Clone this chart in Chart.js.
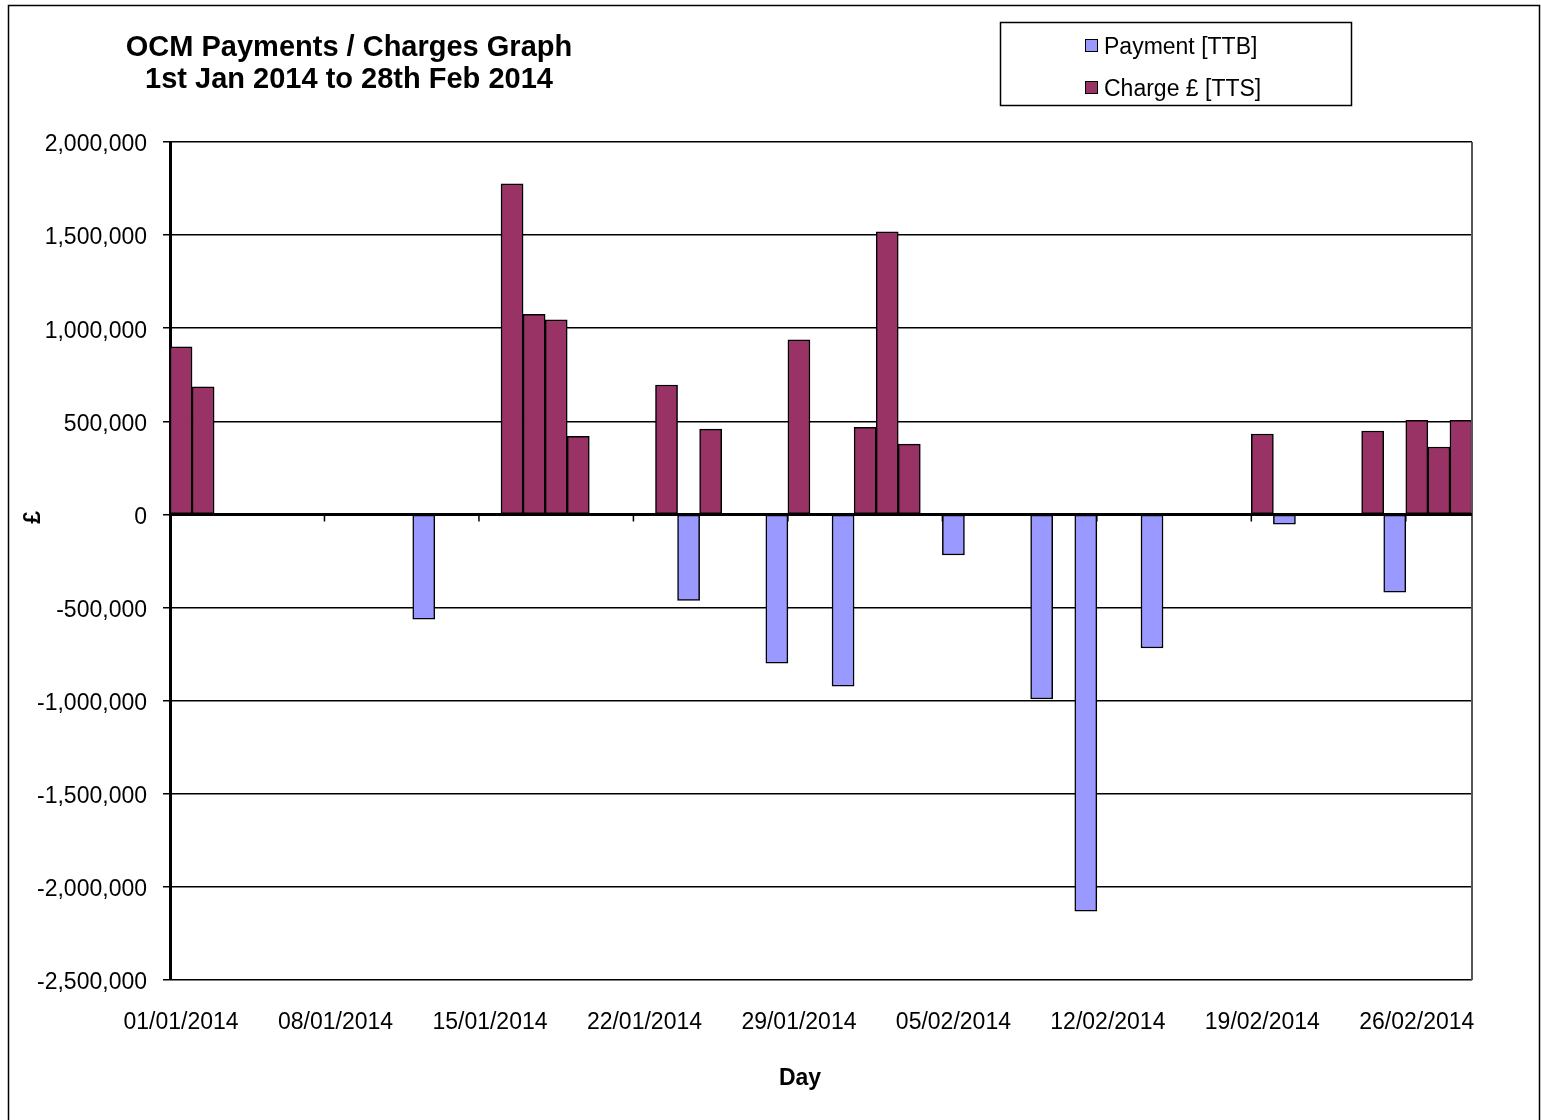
<!DOCTYPE html>
<html>
<head>
<meta charset="utf-8">
<title>OCM Payments / Charges Graph</title>
<script src="https://cdn.jsdelivr.net/npm/chart.js@4/dist/chart.umd.min.js"></script>
<style>
    body { margin: 0; background: #fff; }
    #wrap { position: relative; width: 1541px; height: 1120px; }
</style>
</head>
<body>
<div id="wrap"><canvas id="ocmChart"></canvas></div>
<script>
// Chart data
const days = [
    '01/01/2014', '02/01/2014', '03/01/2014', '04/01/2014', '05/01/2014', '06/01/2014', '07/01/2014',
    '08/01/2014', '09/01/2014', '10/01/2014', '11/01/2014', '12/01/2014', '13/01/2014', '14/01/2014',
    '15/01/2014', '16/01/2014', '17/01/2014', '18/01/2014', '19/01/2014', '20/01/2014', '21/01/2014',
    '22/01/2014', '23/01/2014', '24/01/2014', '25/01/2014', '26/01/2014', '27/01/2014', '28/01/2014',
    '29/01/2014', '30/01/2014', '31/01/2014', '01/02/2014', '02/02/2014', '03/02/2014', '04/02/2014',
    '05/02/2014', '06/02/2014', '07/02/2014', '08/02/2014', '09/02/2014', '10/02/2014', '11/02/2014',
    '12/02/2014', '13/02/2014', '14/02/2014', '15/02/2014', '16/02/2014', '17/02/2014', '18/02/2014',
    '19/02/2014', '20/02/2014', '21/02/2014', '22/02/2014', '23/02/2014', '24/02/2014', '25/02/2014',
    '26/02/2014', '27/02/2014', '28/02/2014'
];

// Payment [TTB] - one value per day, null where nothing was paid
const payments = [
    null, null, null, null, null, null, null,
    null, null, null, null, -562000, null, null,
    null, null, null, null, null, null, null,
    null, null, -462000, null, null, null, -798000,
    null, null, -922000, null, null, null, null,
    -218000, null, null, null, -991000, null, -2130000,
    null, null, -717000, null, null, null, null,
    null, -52000, null, null, null, null, -417000,
    null, null, null
];

// Charge £ [TTS]
const charges = [
    900000, 685000, null, null, null, null, null,
    null, null, null, null, null, null, null,
    null, 1775000, 1075000, 1045000, 420000, null, null,
    null, 695000, null, 458000, null, null, null,
    937000, null, null, 468000, 1517000, 378000, null,
    null, null, null, null, null, null, null,
    null, null, null, null, null, null, null,
    432000, null, null, null, null, 448000, null,
    505000, 362000, 505000
];

const yTicks = [2000000, 1500000, 1000000, 500000, 0, -500000, -1000000, -1500000, -2000000, -2500000];

const chartTitle = ['OCM Payments / Charges Graph', '1st Jan 2014 to 28th Feb 2014'];
const xTitle = 'Day';
const yTitle = '£';
const labelEvery = 7;

const FONT = '"Liberation Sans", Arial, sans-serif';

// Frame, titles, legend box, zero axis with its tick marks
const decorations = {
    id: 'decorations',
    beforeDraw(chart) {
        const ctx = chart.ctx;
        ctx.save();
        ctx.fillStyle = '#fff';
        ctx.fillRect(0, 0, chart.width, chart.height);
        ctx.restore();
    },
    afterDatasetsDraw(chart) {
        const ctx = chart.ctx;
        const area = chart.chartArea;
        const x = chart.scales.x;
        const y = chart.scales.y;
        const zeroY = y.getPixelForValue(0);

        ctx.save();
        // right edge of plot area
        ctx.strokeStyle = '#555';
        ctx.lineWidth = 2;
        ctx.beginPath();
        ctx.moveTo(area.right, area.top);
        ctx.lineTo(area.right, area.bottom);
        ctx.stroke();

        // category axis sits on zero
        ctx.strokeStyle = '#000';
        ctx.lineWidth = 3;
        ctx.beginPath();
        ctx.moveTo(area.left, zeroY);
        ctx.lineTo(area.right, zeroY);
        ctx.stroke();

        ctx.lineWidth = 1.5;
        ctx.beginPath();
        for (let i = labelEvery; i < days.length; i += labelEvery) {
            const px = (x.getPixelForValue(i - 1) + x.getPixelForValue(i)) / 2;
            ctx.moveTo(px, zeroY);
            ctx.lineTo(px, zeroY + 7);
        }
        ctx.stroke();
        ctx.restore();
    },
    afterDraw(chart) {
        const ctx = chart.ctx;
        const zeroY = chart.scales.y.getPixelForValue(0);
        ctx.save();

        // outer frame
        ctx.strokeStyle = '#000';
        ctx.lineWidth = 1.5;
        ctx.strokeRect(8.5, 5.5, 1531, 1200);

        // title
        ctx.fillStyle = '#000';
        ctx.font = 'bold 29px ' + FONT;
        ctx.textAlign = 'center';
        ctx.textBaseline = 'alphabetic';
        ctx.fillText(chartTitle[0], 349, 56);
        ctx.fillText(chartTitle[1], 349, 88);

        // axis titles
        ctx.font = 'bold 23px ' + FONT;
        ctx.textBaseline = 'middle';
        ctx.fillText(xTitle, 800, 1079);
        ctx.save();
        ctx.translate(34, zeroY + 3);
        ctx.rotate(-Math.PI / 2);
        ctx.fillText(yTitle, 0, 0);
        ctx.restore();

        // legend box
        ctx.lineWidth = 1.5;
        ctx.strokeRect(1000.5, 22.5, 351, 83);
        ctx.font = '23px ' + FONT;
        ctx.textAlign = 'left';
        ctx.textBaseline = 'alphabetic';
        chart.data.datasets.forEach((ds, i) => {
            const top = 39 + i * 42;
            ctx.fillStyle = ds.backgroundColor;
            ctx.fillRect(1085, top, 13, 13);
            ctx.strokeStyle = '#000';
            ctx.lineWidth = 1;
            ctx.strokeRect(1085.5, top + 0.5, 12, 12);
            ctx.fillStyle = '#000';
            ctx.fillText(ds.label, 1104, top + 15);
        });
        ctx.restore();
    }
};

function initChart() {
    const ctx = document.getElementById('ocmChart').getContext('2d');
    new Chart(ctx, {
        type: 'bar',
        data: {
            labels: days,
            datasets: [{
                label: 'Payment [TTB]',
                data: payments,
                backgroundColor: '#9999FF',
                borderColor: '#000',
                borderWidth: 1.5,
                borderSkipped: false
            }, {
                label: 'Charge £ [TTS]',
                data: charges,
                backgroundColor: '#993366',
                borderColor: '#000',
                borderWidth: 1.5,
                borderSkipped: false
            }]
        },
        options: {
            responsive: true,
            maintainAspectRatio: false,
            animation: false,
            layout: {
                padding: { top: 142, left: 12, right: 69, bottom: 0 }
            },
            datasets: {
                bar: {
                    grouped: false,
                    categoryPercentage: 1,
                    barPercentage: 1
                }
            },
            plugins: {
                legend: { display: false },
                title: { display: false },
                tooltip: { enabled: false }
            },
            scales: {
                x: {
                    afterFit(scale) { scale.height = 140; },
                    grid: { display: false, drawTicks: false },
                    border: { display: false },
                    ticks: {
                        autoSkip: false,
                        maxRotation: 0,
                        minRotation: 0,
                        padding: 29,
                        color: '#000',
                        font: { family: FONT, size: 23 },
                        callback: function(value, index) {
                            return index % labelEvery === 0 ? days[index] : '';
                        }
                    }
                },
                y: {
                    min: yTicks[yTicks.length - 1],
                    max: yTicks[0],
                    afterFit(scale) { scale.width = 158; },
                    afterBuildTicks(scale) {
                        scale.ticks = yTicks.map(v => ({ value: v }));
                    },
                    grid: {
                        color: '#000',
                        lineWidth: 1.5,
                        drawTicks: true,
                        tickLength: 7,
                        tickColor: '#000'
                    },
                    border: { display: true, color: '#000', width: 3 },
                    ticks: {
                        padding: 16,
                        labelOffset: 3,
                        color: '#000',
                        font: { family: FONT, size: 23 },
                        callback: v => v.toLocaleString('en-GB')
                    }
                }
            }
        },
        plugins: [decorations]
    });
}

document.addEventListener('DOMContentLoaded', initChart);
</script>
</body>
</html>
